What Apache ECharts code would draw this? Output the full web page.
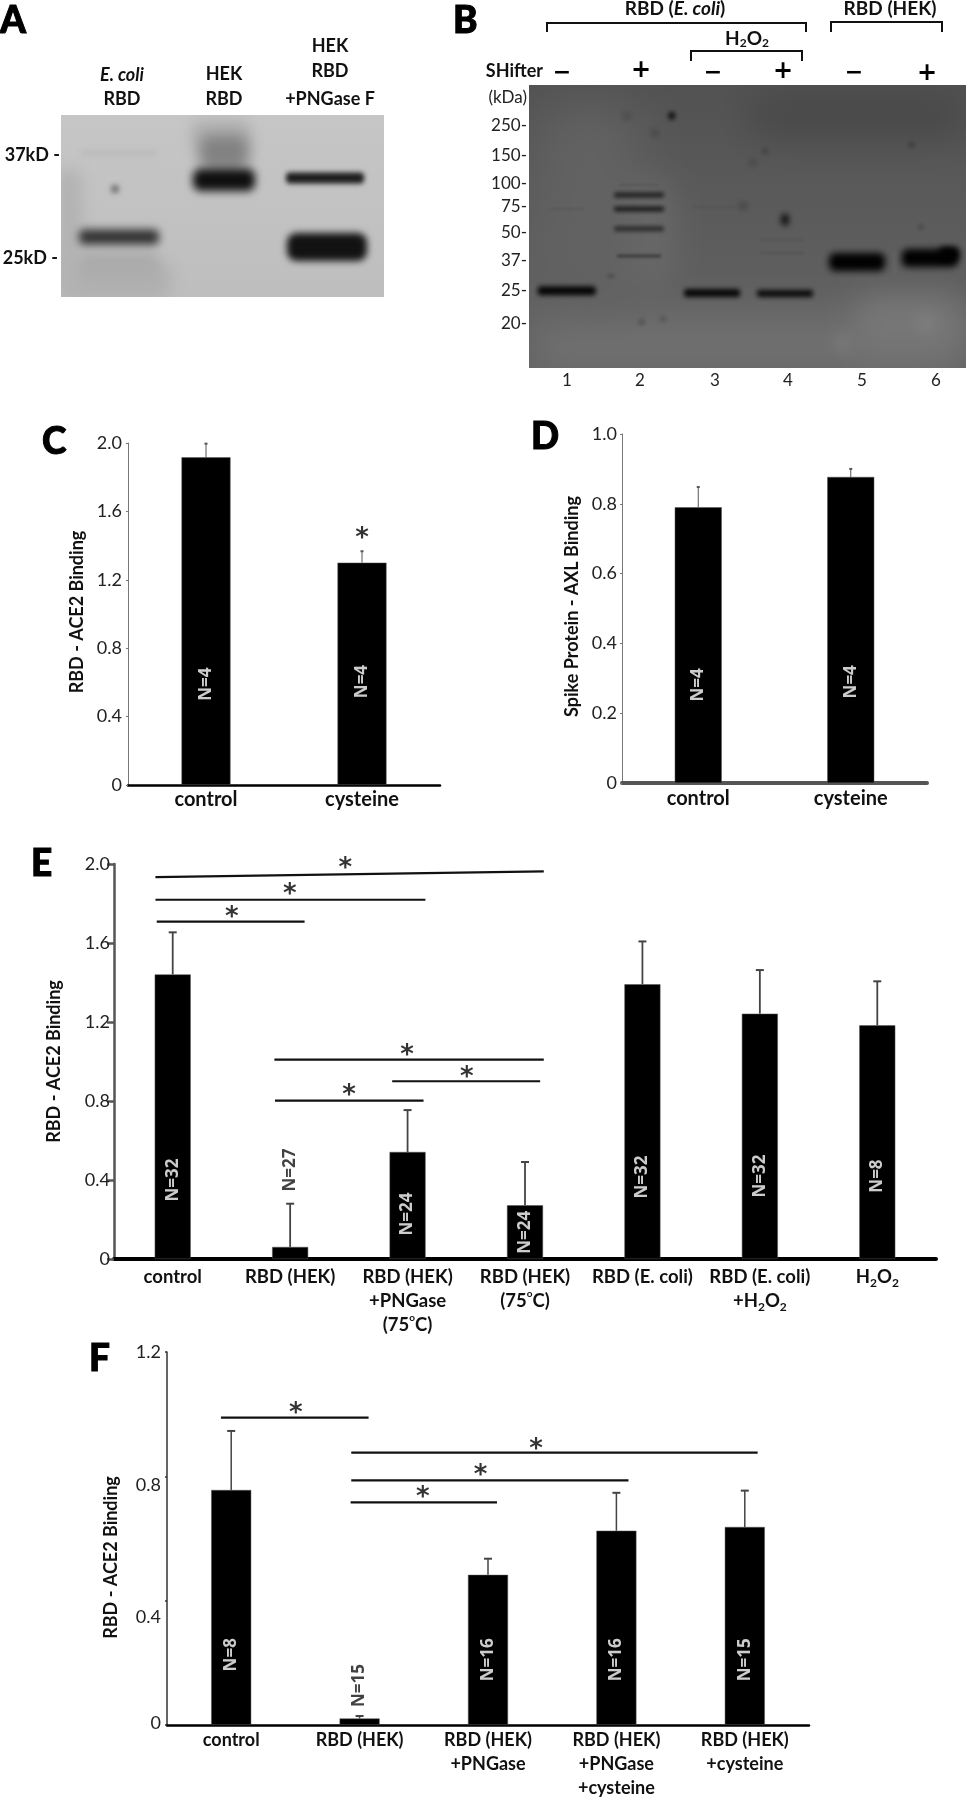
<!DOCTYPE html>
<html><head><meta charset="utf-8">
<style>html,body{margin:0;padding:0;background:#fff}#c{width:966px;height:1800px}</style>
<script src="https://cdn.jsdelivr.net/npm/echarts@6/dist/echarts.min.js"></script>
</head><body><div id="c"></div>
<script>
// ---------- panel C ----------
const cCats = ['control','cysteine'];
const cMeans = [1.916,1.30];
const cUpper = [1.996,1.367];
const cN = ['N=4','N=4'];
const cNY = [0.59,0.605];
// ---------- panel D ----------
const dCats = ['control','cysteine'];
const dMeans = [0.79,0.877];
const dUpper = [0.848,0.90];
const dN = ['N=4','N=4'];
const dNY = [0.281,0.29];
// ---------- panel E ----------
const eCats = ['control','RBD (HEK)','RBD (HEK)\n+PNGase\n(75{sup|o}C)','RBD (HEK)\n(75{sup|o}C)','RBD (E. coli)','RBD (E. coli)\n+H{sub|2}O{sub|2}','H{sub|2}O{sub|2}'];
const eMeans = [1.441,0.061,0.542,0.272,1.391,1.242,1.183];
const eUpper = [1.654,0.28,0.754,0.491,1.608,1.463,1.406];
const eN = ['N=32','N=27','N=24','N=24','N=32','N=32','N=8'];
const eNY = [0.40,0.45,0.228,0.135,0.415,0.42,0.42];
const eBrackets = [[-0.147,3.16,1.934,1.963],[-0.147,2.152,1.819,1.819],[-0.136,1.123,1.708,1.708],[0.866,3.16,1.009,1.009],[1.869,3.129,0.90,0.90],[0.871,2.136,0.802,0.802]];
const eStars = [[1.47,2.005],[0.997,1.873],[0.504,1.757],[1.995,1.057],[2.504,0.947],[1.501,0.854]];
// ---------- panel F ----------
const fCats = ['control','RBD (HEK)','RBD (HEK)\n+PNGase','RBD (HEK)\n+PNGase\n+cysteine','RBD (HEK)\n+cysteine'];
const fMeans = [0.756,0.021,0.483,0.625,0.637];
const fUpper = [0.946,0.029,0.535,0.747,0.754];
const fN = ['N=8','N=15','N=16','N=16','N=15'];
const fNY = [0.226,0.127,0.21,0.21,0.21];
const fBrackets = [[-0.08,1.07,0.989,0.989],[0.935,4.10,0.876,0.876],[0.935,3.094,0.787,0.787],[0.93,2.07,0.716,0.716]];
const fStars = [[0.504,1.019],[2.374,0.903],[1.942,0.821],[1.492,0.749]];
// ---------- gel A: lane position, migration, width, thickness, grey level, softness ----------
const gelAX = [58,8,160,58,58,58,163,163,264,266,54];
const gelAY = [165,120,20,150,38,122,38,65,63,132,74];
const gelAW = [105,25,60,78,76,80,50,62,78,80,8];
const gelAH = [40,130,30,24,4,15,36,22,11,28,8];
const gelAG = [176,178,176,172,182,50,130,15,28,18,120];
const gelAS = [16,16,14,10,6,8,14,8,5,7,5];
// ---------- gel B ----------
const gelBX = [220,330,110,380,60,37.7,183,256,328,400.7,420,110,110,110,110,110,37,184,253,253,142.7,256,126,224,236,382.7,391.7,82,214,112.7,134,97.7,397,314,366];
const gelBY = [260,30,150,240,120,205.7,208,208.5,177,173,169,110,124,143.7,171,100,124,122,168,155,30.7,134.7,48,78,66,59.7,142,191,121,237,234,31,238,258,178];
const gelBW = [430,220,70,110,100,58,56,56,56,56,20,50,50,50,44,40,36,44,44,44,6,7,5,5,5,4,4,6,8,5,5,8,16,16,1];
const gelBH = [60,40,110,60,200,9,8,7,18,18,14,5,5,5,3,1,1,1,1,1,7,11,5,5,6,4,4,2,7,4,4,6,16,14,24];
const gelBG = [112,70,104,118,98,5,5,8,0,0,0,30,25,42,58,72,78,76,72,76,0,5,50,55,60,35,58,45,65,62,68,70,128,122,105];
const gelBS = [40,40,30,30,50,5,5,5,7,7,6,4,4,4,3,3,3,3,3,3,5,6,6,6,5,5,4,4,6,5,5,6,14,14,3];
// ---------- annotation text ----------
const gelATop = [['{i|E. coli}',122,75],['RBD',122,99],['HEK',224,74],['RBD',224,99],['HEK',330,46],['RBD',330,71],['+PNGase F',330,99]];
const gelASide = [['37kD -',60,155],['25kD -',58,258]];
const gelBTop = [['RBD ({ii|E. coli})',675,9],['RBD (HEK)',890,9],['H{sub|2}O{sub|2}',747,39]];
const shifterMinus = [[562,73],[713,73],[854,73]];
const shifterPlus = [[641,71],[783,72],[927,74]];
const kdaLabels = ['250-','150-','100-','75-','50-','37-','25-','20-'];
const kdaY = [126,156,184,207,233,261,291,324];
const laneNums = ['1','2','3','4','5','6'];
const laneX = [567,640,715,788,862,936];
const letters = [['A',0,21],['B',453,21],['C',42,442],['D',531,437],['E',31,864],['F',89,1359]];

const F='Lato, "Noto Sans", sans-serif';
const boldRich={
  i:{fontFamily:F,fontWeight:'bold',fontStyle:'italic',fontSize:18},
  ii:{fontFamily:F,fontWeight:'bold',fontStyle:'italic',fontSize:19},
  sub:{fontFamily:F,fontWeight:'bold',fontSize:12,verticalAlign:'bottom',padding:[9,0,0,0]},
  sup:{fontFamily:F,fontWeight:'bold',fontSize:10,verticalAlign:'top',padding:[0,0,8,0]}
};
const grid=[],xAxis=[],yAxis=[],series=[];

function panel(o){
  const g=grid.length;
  grid.push({left:o.l,top:o.t,width:o.w,height:o.h,containLabel:false});
  const xi=xAxis.length;
  xAxis.push({type:'category',gridIndex:g,data:o.cats,
    axisLine:{lineStyle:{color:o.xColor,width:o.xWidth}},axisTick:{show:false},
    axisLabel:{interval:0,margin:o.xMargin,color:'#111',fontFamily:F,fontWeight:'bold',fontSize:o.xFont||18,lineHeight:o.xLH||24,rich:boldRich}});
  xAxis.push({type:'value',gridIndex:g,min:-0.5,max:o.cats.length-0.5,show:false});
  const yi=yAxis.length;
  const rich={};
  (o.labelShift||[]).forEach((s,i)=>{rich['s'+i]={fontFamily:F,fontSize:o.yFont,color:'#222',padding:s>=0?[2*s,0,0,0]:[0,0,-2*s,0]};});
  yAxis.push({type:'value',gridIndex:g,min:0,max:o.max,interval:o.step,
    name:o.title,nameLocation:'middle',nameGap:o.nameGap,nameRotate:90,
    nameTextStyle:{fontFamily:F,fontWeight:'bold',fontSize:18,color:'#111',padding:o.namePad||0},
    axisLine:{show:true,onZero:false,lineStyle:{color:o.yColor,width:o.yWidth}},
    axisTick:{show:true,length:o.tick,lineStyle:{color:o.yColor,width:o.yWidth}},splitLine:{show:false},
    axisLabel:{margin:o.yMargin,color:'#222',fontFamily:F,fontSize:o.yFont,rich,
      formatter:(v)=>{const s=v===0?'0':v.toFixed(1);
        if(o.labelShift){const i=Math.round(v/o.step);return '{s'+i+'|'+s+'}';}
        return s;}}});
  series.push({type:'bar',xAxisIndex:xi,yAxisIndex:yi,data:o.means,barWidth:o.barW,
    itemStyle:{color:'#000',borderColor:'#555',borderWidth:0.5},silent:true,z:2});
  const cap=o.cap, ew=o.errW, ec=o.errC;
  series.push({type:'custom',xAxisIndex:xi+1,yAxisIndex:yi,clip:false,z:1,silent:true,
    data:o.means.map((m,i)=>[i,m,o.upper[i]]),encode:{x:0,y:[1,2]},
    renderItem:(p,api)=>{
      const a=api.coord([api.value(0),api.value(1)]),b=api.coord([api.value(0),api.value(2)]);
      return {type:'group',children:[
        {type:'line',shape:{x1:a[0],y1:a[1],x2:b[0],y2:b[1]},style:{stroke:ec,lineWidth:ew}},
        {type:'line',shape:{x1:b[0]-cap/2,y1:b[1],x2:b[0]+cap/2,y2:b[1]},style:{stroke:ec,lineWidth:2}}]};
    }});
  const nData=o.means.map((m,i)=>(o.darkN||[]).includes(i)?{value:[i,o.nY[i]],label:{color:'#111'}}:[i,o.nY[i]]);
  series.push({type:'scatter',xAxisIndex:xi+1,yAxisIndex:yi,clip:false,silent:true,z:5,symbolSize:1,
    itemStyle:{color:'transparent'},data:nData,
    label:{show:true,position:'inside',rotate:90,fontFamily:'"Open Sans", sans-serif',fontWeight:'bold',fontSize:17,
      formatter:(p)=>o.n[p.dataIndex],color:'#fff'}});
  (o.brackets||[]).forEach(b=>{
    series.push({type:'line',xAxisIndex:xi+1,yAxisIndex:yi,silent:true,clip:false,z:4,symbol:'none',
      data:[[b[0],b[2]],[b[1],b[3]]],lineStyle:{color:'#111',width:2.2}});
  });
  if(o.stars) series.push({type:'scatter',xAxisIndex:xi+1,yAxisIndex:yi,silent:true,clip:false,z:5,symbolSize:1,
    itemStyle:{color:'transparent'},data:o.stars,
    label:{show:true,position:'inside',formatter:'*',offset:[0,6],color:'#000',fontFamily:'"DejaVu Sans"',fontWeight:'bold',fontSize:26}});
}

function gel(l,t,w,h,bg,X,Y,W,H,G,S){
  const g=grid.length;
  grid.push({left:l,top:t,width:w,height:h,show:true,backgroundColor:bg,borderWidth:0,containLabel:false});
  const xi=xAxis.length,yi=yAxis.length;
  xAxis.push({type:'value',gridIndex:g,min:0,max:w,show:false});
  yAxis.push({type:'value',gridIndex:g,min:0,max:h,inverse:true,show:false});
  const OFF=4000;
  series.push({type:'custom',xAxisIndex:xi,yAxisIndex:yi,clip:true,silent:true,
    data:X.map((x,i)=>[x,Y[i],W[i],H[i],G[i],S[i]]),encode:{x:0,y:1},
    renderItem:(p,api)=>{
      const c=api.coord([api.value(0),api.value(1)]),s=api.size([api.value(2),api.value(3)]);
      const v=api.value(4);
      return {type:'rect',shape:{x:c[0]-s[0]/2-OFF,y:c[1]-s[1]/2,width:s[0],height:s[1],r:Math.min(s[0],s[1])/3},
        style:{fill:'#000',shadowColor:'rgb('+v+','+v+','+v+')',shadowBlur:api.value(5),shadowOffsetX:OFF,shadowOffsetY:0}};
    }});
}

gel(61,115,323,182,{type:'linear',x:0,y:0,x2:0,y2:1,colorStops:[{offset:0,color:'#c6c6c6'},{offset:1,color:'#bebebe'}]},gelAX,gelAY,gelAW,gelAH,gelAG,gelAS);
gel(529,85,437,283,{type:'linear',x:0,y:0,x2:0,y2:1,colorStops:[{offset:0,color:'#525252'},{offset:0.5,color:'#5c5c5c'},{offset:1,color:'#636363'}]},gelBX,gelBY,gelBW,gelBH,gelBG,gelBS);

panel({l:128,t:443,w:312,h:342,cats:cCats,means:cMeans,upper:cUpper,n:cN,nY:cNY,max:2,step:0.4,
  title:'RBD - ACE2 Binding',nameGap:42,namePad:[0,0,0,4],xColor:'#000',xWidth:2.5,xMargin:3,xFont:20,yColor:'#777',yWidth:1,tick:2,yMargin:6,yFont:18,
  barW:49,cap:3,errW:1,errC:'#555',stars:[[1,1.474]]});
panel({l:622,t:434,w:305,h:349,cats:dCats,means:dMeans,upper:dUpper,n:dN,nY:dNY,max:1,step:0.2,
  title:'Spike Protein - AXL Binding',nameGap:41,namePad:[0,0,0,4],xColor:'#555',xWidth:4,xMargin:4,xFont:20,yColor:'#777',yWidth:1,tick:2,yMargin:5,yFont:18,
  barW:47,cap:3,errW:1,errC:'#555'});
panel({l:114,t:864,w:822,h:395,cats:eCats,means:eMeans,upper:eUpper,n:eN,nY:eNY,darkN:[1],max:2,step:0.4,
  title:'RBD - ACE2 Binding',nameGap:51,xColor:'#000',xWidth:4,xMargin:6,xFont:18.5,yColor:'#555',yWidth:2.5,tick:7,yMargin:4,yFont:18,
  barW:36,cap:8,errW:1.8,errC:'#444',brackets:eBrackets,stars:eStars});
panel({l:167,t:1352,w:642,h:376,cats:fCats,means:fMeans,upper:fUpper,n:fN,nY:fNY,darkN:[1],max:1.2,step:0.4,
  title:'RBD - ACE2 Binding',nameGap:47,namePad:[0,38,0,0],xColor:'#000',xWidth:2.5,xMargin:3,yColor:'#333',yWidth:1.5,tick:2,yMargin:6,yFont:18,labelShift:[-2,17,9,0],
  barW:40,cap:8,errW:1.5,errC:'#444',brackets:fBrackets,stars:fStars});

function txt(s,x,y,opt){
  return {type:'text',x:x,y:y,silent:true,z:20,style:Object.assign({text:s,fill:'#111',font:'bold 18px '+F,align:'center',verticalAlign:'middle',rich:boldRich},opt||{})};
}
const graphic=[];
gelATop.forEach(a=>graphic.push(txt(a[0],a[1],a[2])));
gelASide.forEach(a=>graphic.push(txt(a[0],a[1],a[2],{align:'right'})));
gelBTop.forEach(a=>graphic.push(txt(a[0],a[1],a[2],{font:'bold 19px '+F})));
graphic.push(txt('SHifter',543,71,{align:'right',font:'bold 18px '+F}));
shifterMinus.forEach(a=>graphic.push(txt('\u2212',a[0],a[1],{fill:'#000',font:'bold 22px "DejaVu Sans"'})));
shifterPlus.forEach(a=>graphic.push(txt('+',a[0],a[1],{fill:'#000',font:'bold 24px "DejaVu Sans"'})));
graphic.push(txt('(kDa)',527,98,{align:'right',fill:'#222',font:'normal 17px '+F}));
kdaLabels.forEach((s,i)=>graphic.push(txt(s,527,kdaY[i],{align:'right',fill:'#222',font:'normal 17px '+F})));
laneNums.forEach((s,i)=>graphic.push(txt(s,laneX[i],381,{fill:'#222',font:'normal 17px '+F})));
letters.forEach(a=>graphic.push(txt(a[0],a[1],a[2],{align:'left',fill:'#000',stroke:'#000',lineWidth:1,font:'900 37px '+F})));
[[547,806,23,32],[831,942,22,32],[691,802,51,61]].forEach(b=>{
  graphic.push({type:'polyline',silent:true,z:20,shape:{points:[[b[0],b[3]],[b[0],b[2]],[b[1],b[2]],[b[1],b[3]]]},style:{fill:'none',stroke:'#111',lineWidth:2}});
});

const chart=echarts.init(document.getElementById('c'),null,{renderer:'canvas',width:966,height:1800});
chart.setOption({animation:false,backgroundColor:'#fff',tooltip:{show:false},grid,xAxis,yAxis,series,graphic:{elements:graphic}});
</script></body></html>
